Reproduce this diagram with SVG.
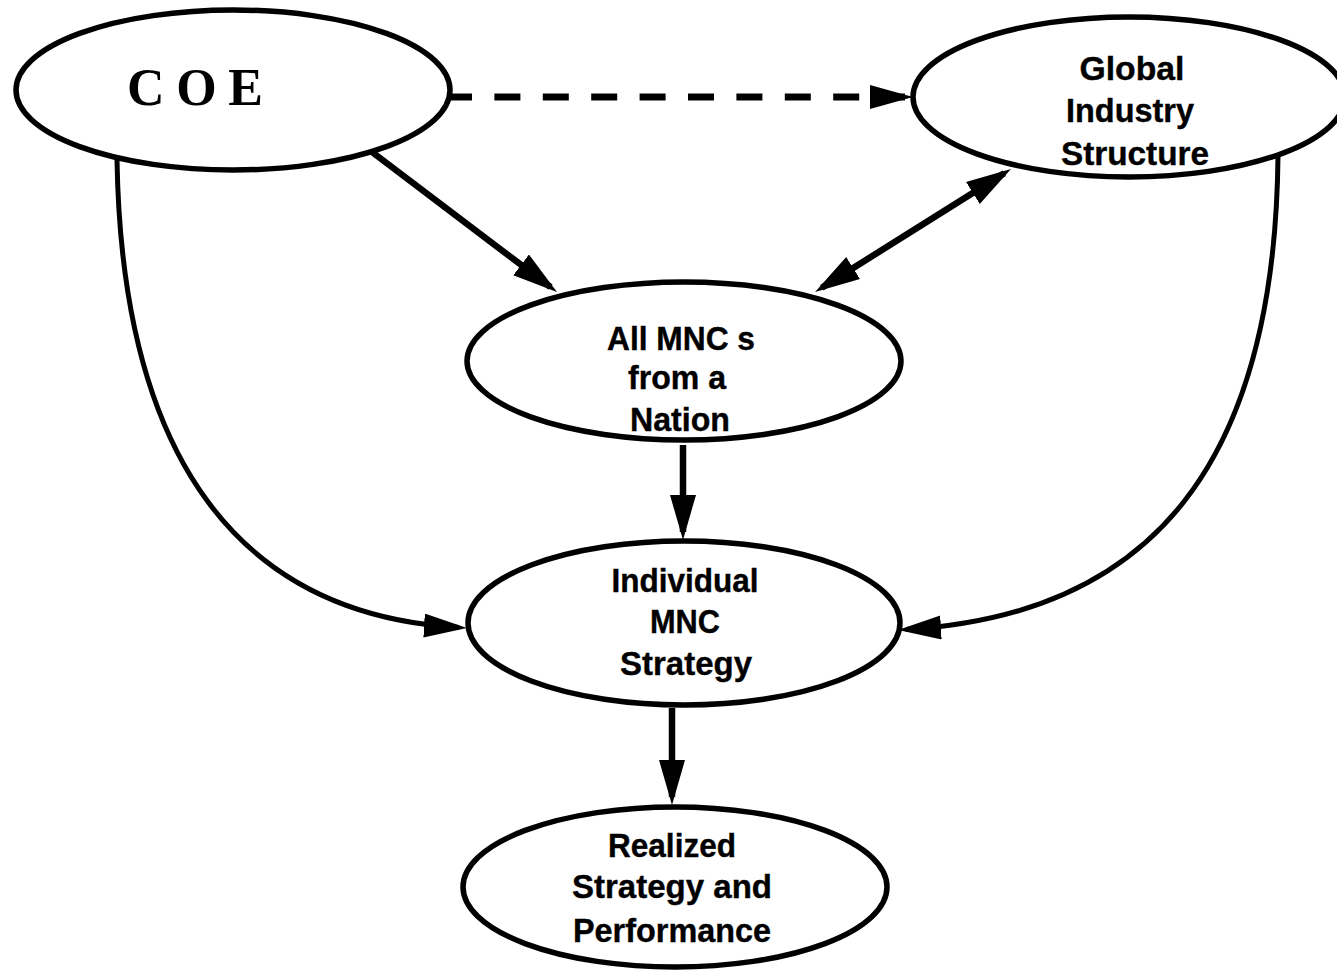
<svg xmlns="http://www.w3.org/2000/svg" width="1337" height="974" viewBox="0 0 1337 974">
<style>
.node{fill:#fff;stroke:#000;stroke-width:5.5}
.lbl{font-family:"Liberation Sans",Arial,Helvetica,sans-serif;font-weight:bold;font-size:34px;fill:#000;stroke:#000;stroke-width:0.4;text-anchor:middle}
.coe{font-family:"Liberation Serif","Times New Roman",serif;font-weight:bold;font-size:52px;fill:#000}
.edge{fill:none;stroke:#000;stroke-width:6.5}
.curve{fill:none;stroke:#000;stroke-width:5}
.dash{fill:none;stroke:#000;stroke-width:7;stroke-dasharray:26 22.4}
</style>
<defs>
<marker id="ah" markerUnits="userSpaceOnUse" markerWidth="46" markerHeight="28" refX="37" refY="13" orient="auto-start-reverse">
<path d="M0,0 L45,13 L0,26 Z" fill="#000"/>
</marker>
<marker id="ahs" markerUnits="userSpaceOnUse" markerWidth="44" markerHeight="26" refX="35" refY="12" orient="auto">
<path d="M0,0 L43,12 L0,24 Z" fill="#000"/>
</marker>
</defs>
<g id="connectors">
<path class="dash" d="M446,97 L905,97" marker-end="url(#ahs)"/>
<path class="edge" d="M372,152 L550.6,287.2" marker-end="url(#ah)"/>
<path class="edge" d="M821.8,287.7 L1004.2,173.3" marker-start="url(#ah)" marker-end="url(#ah)"/>
<path class="edge" d="M683,445 L683,532" marker-end="url(#ah)"/>
<path class="edge" d="M672,708 L672,797" marker-end="url(#ah)"/>
<path class="curve" d="M117,160 C122,460 240,615 459,627.5" marker-end="url(#ahs)"/>
<path class="curve" d="M1278,156 C1275,460 1155,615 906,629.5" marker-end="url(#ahs)"/>
</g>
<g id="coe">
<ellipse class="node" cx="233" cy="90" rx="217" ry="80"/>
<text class="coe" x="127" y="105" textLength="136" lengthAdjust="spacing">COE</text>
</g>
<g id="global">
<ellipse class="node" cx="1129" cy="97" rx="216" ry="80"/>
<text class="lbl" x="1132" y="80" textLength="105" lengthAdjust="spacingAndGlyphs">Global</text>
<text class="lbl" x="1130" y="122" textLength="128" lengthAdjust="spacingAndGlyphs">Industry</text>
<text class="lbl" x="1135" y="165" textLength="148" lengthAdjust="spacingAndGlyphs">Structure</text>
</g>
<g id="allmnc">
<ellipse class="node" cx="684" cy="361" rx="217" ry="79"/>
<text class="lbl" x="681" y="350" textLength="148" lengthAdjust="spacingAndGlyphs">All MNC s</text>
<text class="lbl" x="677" y="389" textLength="98" lengthAdjust="spacingAndGlyphs">from a</text>
<text class="lbl" x="680" y="431" textLength="100" lengthAdjust="spacingAndGlyphs">Nation</text>
</g>
<g id="individual">
<ellipse class="node" cx="684" cy="623" rx="216" ry="82"/>
<text class="lbl" x="685" y="592" textLength="147" lengthAdjust="spacingAndGlyphs">Individual</text>
<text class="lbl" x="685" y="633" textLength="70" lengthAdjust="spacingAndGlyphs">MNC</text>
<text class="lbl" x="686" y="675" textLength="132" lengthAdjust="spacingAndGlyphs">Strategy</text>
</g>
<g id="realized">
<ellipse class="node" cx="675" cy="887" rx="212" ry="80"/>
<text class="lbl" x="672" y="857" textLength="128" lengthAdjust="spacingAndGlyphs">Realized</text>
<text class="lbl" x="672" y="898" textLength="200" lengthAdjust="spacingAndGlyphs">Strategy and</text>
<text class="lbl" x="672" y="942" textLength="198" lengthAdjust="spacingAndGlyphs">Performance</text>
</g>
</svg>
